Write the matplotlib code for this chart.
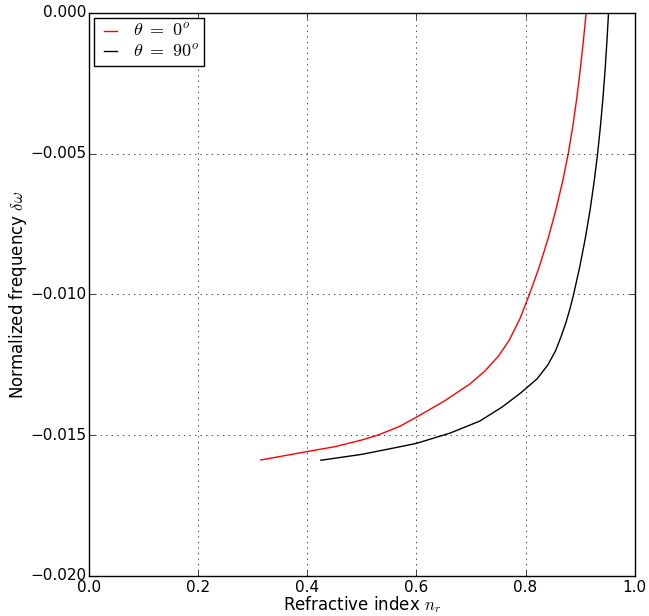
import matplotlib
matplotlib.use("Agg")
import matplotlib.pyplot as plt

plt.style.use("classic")
plt.rcParams["mathtext.fontset"] = "cm"

# Red curve: theta = 0 deg
n_r_0 = [0.315, 0.40, 0.45, 0.50, 0.529, 0.57, 0.60, 0.65, 0.698, 0.725, 0.75, 0.77,
         0.79, 0.807, 0.8255, 0.8415, 0.8555, 0.8677, 0.8782, 0.8868, 0.8940, 0.9003,
         0.9059, 0.911]
dw_0 = [-0.01588, -0.01558, -0.01541, -0.01517, -0.01500, -0.01468, -0.01436, -0.01380,
        -0.01318, -0.01273, -0.01220, -0.01163, -0.01085, -0.01000, -0.00900, -0.00800,
        -0.00700, -0.00600, -0.00500, -0.00400, -0.00300, -0.00200, -0.00100, 0.0]

# Black curve: theta = 90 deg
n_r_90 = [0.425, 0.50, 0.57, 0.60, 0.661, 0.716, 0.757, 0.791, 0.821, 0.841, 0.855,
          0.8650, 0.8740, 0.8815, 0.8880, 0.8995, 0.9095, 0.9182, 0.9256, 0.9320,
          0.9373, 0.9419, 0.9458, 0.9491, 0.952]
dw_90 = [-0.01589, -0.01568, -0.01541, -0.01529, -0.01493, -0.01450, -0.01400, -0.01350,
         -0.01300, -0.01250, -0.01200, -0.01150, -0.01100, -0.01050, -0.01000, -0.00900,
         -0.00800, -0.00700, -0.00600, -0.00500, -0.00400, -0.00300, -0.00200, -0.00100, 0.0]

labels = [r"$\theta\ =\ 0^o$", r"$\theta\ =\ 90^o$"]
xticks = [0.0, 0.2, 0.4, 0.6, 0.8, 1.0]
yticks = [-0.02, -0.015, -0.01, -0.005, 0.0]

fig = plt.figure(figsize=(6.49, 6.16), dpi=100)
ax = fig.add_axes([0.137, 0.065, 0.841, 0.914])
ax.plot(n_r_0, dw_0, color="red", lw=1, label=labels[0])
ax.plot(n_r_90, dw_90, color="black", lw=1, label=labels[1])
ax.set_xlim(0, 1)
ax.set_ylim(-0.02, 0)
ax.set_xticks(xticks)
ax.set_yticks(yticks)
ax.set_yticklabels([f"{v:.3f}".replace("-", "\u2212") for v in yticks])
ax.set_xticklabels([f"{v:.1f}" for v in xticks])
ax.tick_params(axis="both", labelsize=11)
ax.tick_params(axis="y", pad=2)
ax.tick_params(axis="x", pad=3)
ax.grid(True, linestyle=":", color="black")
ax.set_xlabel(r"Refractive index $n_r$", fontsize=12, labelpad=-1)
ax.set_ylabel(r"Normalized frequency $\delta\omega$", fontsize=12, labelpad=1)
leg = ax.legend(loc="upper left", fontsize=13, handlelength=1.3, borderaxespad=0.3,
                handletextpad=0.6, labelspacing=0.15, borderpad=0.25)
leg.get_frame().set_linewidth(1)
fig.savefig("out.png", dpi=100)
